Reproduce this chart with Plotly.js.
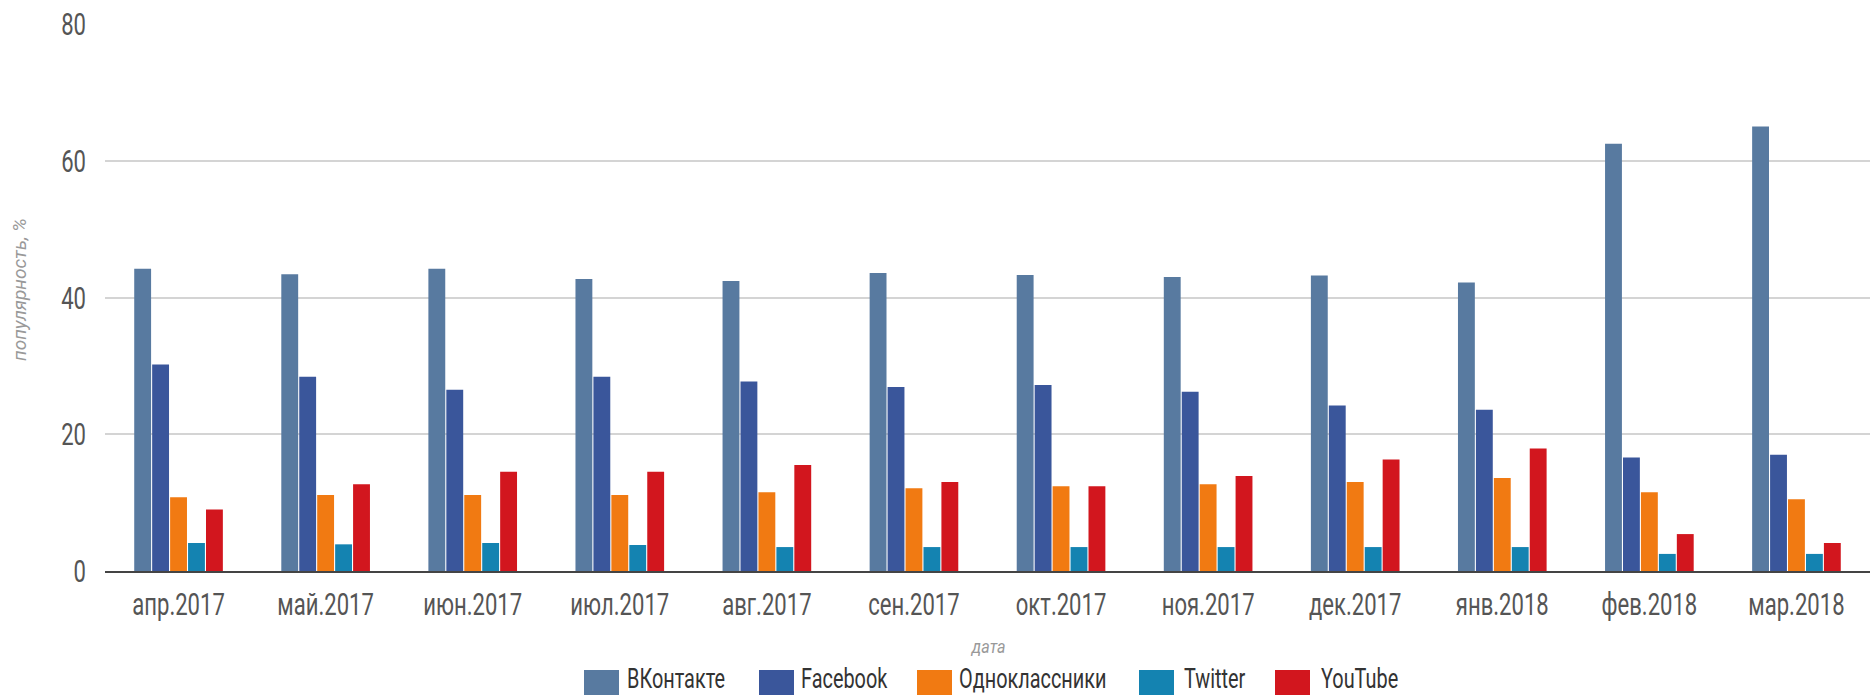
<!DOCTYPE html>
<html>
<head>
<meta charset="utf-8">
<script src="https://cdn.plot.ly/plotly-3.0.1.min.js"></script>
<style>html,body{margin:0;padding:0;background:#fff;}#chart{width:1870px;height:698px;}</style>
</head>
<body>
<div id="chart"></div>
<script>
const categories = ["апр.2017","май.2017","июн.2017","июл.2017","авг.2017","сен.2017","окт.2017","ноя.2017","дек.2017","янв.2018","фев.2018","мар.2018"];
const vkontakte = [44.2, 43.4, 44.2, 42.7, 42.4, 43.6, 43.3, 43.0, 43.2, 42.2, 62.5, 65.0];
const facebook = [30.2, 28.4, 26.5, 28.4, 27.7, 26.9, 27.2, 26.2, 24.2, 23.6, 16.6, 17.0];
const odnoklassniki = [10.8, 11.1, 11.1, 11.1, 11.5, 12.1, 12.4, 12.7, 13.0, 13.6, 11.5, 10.5];
const twitter = [4.1, 3.9, 4.1, 3.8, 3.5, 3.5, 3.5, 3.5, 3.5, 3.5, 2.5, 2.5];
const youtube = [9.0, 12.7, 14.5, 14.5, 15.5, 13.0, 12.4, 13.9, 16.3, 17.9, 5.4, 4.1];
const seriesNames = ["ВКонтакте","Facebook","Одноклассники","Twitter","YouTube"];
const yTicks = [0, 20, 40, 60, 80];
const xTitle = "дата";
const yTitle = "популярность, %";

const colors = ["#587aa0", "#3a569b", "#f17a12", "#1483b1", "#d2161e"];
const seriesValues = [vkontakte, facebook, odnoklassniki, twitter, youtube];
const FONT = "Roboto, sans-serif";

// page geometry (pixels)
const W = 1870, H = 698, ML = 105, MR = 0, MT = 24, MB = 127;
const PW = W - ML - MR, PH = H - MT - MB;
const px2x = p => (p - ML) / PW;
const py2y = p => (H - MB - p) / PH;

// legend layout (pixels)
const legSwatchLeft = [584, 759, 917, 1139, 1275];
const legTextLeft = [626, 800, 958, 1183, 1320];
const legSwatchW = 35, legTop = 670, legBottom = 695, legMid = 678;

const data = seriesValues.map((vals, i) => ({
  type: "bar",
  name: seriesNames[i],
  x: categories,
  y: vals,
  marker: {color: colors[i]},
  hoverinfo: "x+y+name",
  showlegend: false
}));

const shapes = seriesNames.map((n, i) => ({
  type: "rect", xref: "paper", yref: "paper",
  x0: px2x(legSwatchLeft[i]), x1: px2x(legSwatchLeft[i] + legSwatchW),
  y0: py2y(legBottom), y1: py2y(legTop),
  fillcolor: colors[i], line: {width: 0}
}));

const annotations = seriesNames.map((n, i) => ({
  text: n, xref: "paper", yref: "paper",
  x: px2x(legTextLeft[i]), y: py2y(legMid),
  xanchor: "left", yanchor: "middle", showarrow: false,
  font: {family: FONT, size: 28, color: "#333"},
  borderpad: 0,
  captureevents: false
}));
annotations.push({
  text: "<i>" + xTitle + "</i>", xref: "paper", yref: "paper",
  x: 0.5, y: py2y(646), xanchor: "center", yanchor: "middle", showarrow: false,
  font: {family: FONT, size: 19, color: "#999"}
});
annotations.push({
  text: "<i>" + yTitle + "</i>", xref: "paper", yref: "paper",
  x: px2x(19), y: py2y(290), xanchor: "center", yanchor: "middle", showarrow: false,
  textangle: -90,
  font: {family: FONT, size: 19, color: "#999"}
});

const layout = {
  width: W,
  height: H,
  margin: {l: ML, r: MR, t: MT, b: MB},
  paper_bgcolor: "#fff",
  plot_bgcolor: "#fff",
  barmode: "group",
  bargap: 0.39,
  bargroupgap: 0.06,
  font: {family: FONT, color: "#555"},
  showlegend: false,
  xaxis: {
    type: "category",
    range: [-0.5, 11.5],
    showgrid: false,
    showline: true,
    linecolor: "#444",
    linewidth: 2,
    ticks: "",
    ticklabelstandoff: 4,
    tickfont: {family: FONT, size: 32, color: "#555"},
    fixedrange: true,
    automargin: false
  },
  yaxis: {
    range: [0, 80],
    tickvals: yTicks,
    ticktext: yTicks.map(String),
    showgrid: true,
    gridcolor: "#d4d4d4",
    gridwidth: 1.5,
    zeroline: false,
    showline: false,
    ticks: "",
    ticklabelstandoff: 18,
    tickfont: {family: FONT, size: 32, color: "#555"},
    fixedrange: true,
    automargin: false
  },
  shapes: shapes,
  annotations: annotations
};

// horizontally condense text (the reference uses a narrow typeface)
function condense(el, s, anchor) {
  if (el.dataset.condensed) return;
  const bb = el.getBBox();
  const cx = anchor === "left" ? bb.x : anchor === "right" ? bb.x + bb.width : bb.x + bb.width / 2;
  const t = el.getAttribute("transform") || "";
  el.setAttribute("transform", t + " translate(" + cx + ",0) scale(" + s + ",1) translate(" + (-cx) + ",0)");
  el.dataset.condensed = "1";
}

Plotly.newPlot("chart", data, layout, {displayModeBar: false}).then(gd => {
  gd.querySelectorAll(".xtick text").forEach(el => condense(el, 0.69, "center"));
  gd.querySelectorAll(".ytick text").forEach(el => condense(el, 0.69, "right"));
  const anns = gd.querySelectorAll(".annotation");
  anns.forEach((a, i) => {
    const txt = a.querySelector("text");
    if (!txt) return;
    if (i < seriesNames.length) condense(txt, 0.71, "left");
    else if (i === seriesNames.length) condense(txt, 0.85, "center");
  });
});
</script>
</body>
</html>
